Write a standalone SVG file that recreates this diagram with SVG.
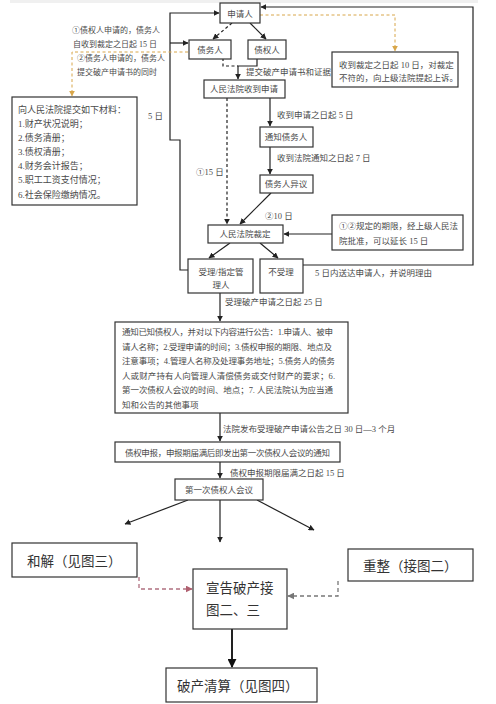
<svg xmlns="http://www.w3.org/2000/svg" width="496" height="704" viewBox="0 0 496 704">
<style>
.box{fill:#fff;stroke:#333;stroke-width:1.2}
.t{font-family:"Liberation Serif","Noto Sans CJK SC",serif;font-size:8.5px;fill:#4a4a4a}
.s{font-size:8px}
.tc{text-anchor:middle}
.m{font-size:9px}
.big{font-family:"Liberation Serif","Noto Sans CJK SC",serif;font-size:13.5px;fill:#333}
.ln{fill:none;stroke:#222;stroke-width:1.2}
.dash{stroke-dasharray:3,2.5}
.or{fill:none;stroke:#d8a64a;stroke-width:1;stroke-dasharray:3,2.5}
.pk{fill:none;stroke:#b07080;stroke-width:1.3;stroke-dasharray:4,3}
.gy{fill:none;stroke:#777;stroke-width:1.3;stroke-dasharray:4,3}
</style>
<defs>
<marker id="ah" viewBox="0 0 10 10" refX="9" refY="5" markerWidth="6" markerHeight="6" orient="auto" markerUnits="userSpaceOnUse"><path d="M0,0 L10,5 L0,10 z" fill="#222"/></marker>
<marker id="ahB" viewBox="0 0 10 10" refX="9" refY="5" markerWidth="9" markerHeight="9" orient="auto" markerUnits="userSpaceOnUse"><path d="M0,0 L10,5 L0,10 z" fill="#111"/></marker>
<marker id="ahO" viewBox="0 0 10 10" refX="9" refY="5" markerWidth="6" markerHeight="6" orient="auto" markerUnits="userSpaceOnUse"><path d="M0,0 L10,5 L0,10 z" fill="#d8a64a"/></marker>
<marker id="ahP" viewBox="0 0 10 10" refX="9" refY="5" markerWidth="7" markerHeight="7" orient="auto" markerUnits="userSpaceOnUse"><path d="M0,0 L10,5 L0,10 z" fill="#b06070"/></marker>
<marker id="ahG" viewBox="0 0 10 10" refX="9" refY="5" markerWidth="7" markerHeight="7" orient="auto" markerUnits="userSpaceOnUse"><path d="M0,0 L10,5 L0,10 z" fill="#777"/></marker>
</defs>
<rect x="0" y="0" width="496" height="704" fill="#fff"/>
<rect x="10" y="0" width="468" height="3" fill="#f0f0f0"/>

<g id="connectors">
<path class="ln" d="M189,270 H180 V140 H170 V13 H219" marker-end="url(#ah)"/>
<path class="ln" d="M170,43 H188" marker-end="url(#ah)"/>
<path class="or" d="M188,52 H72 V96" marker-end="url(#ahO)"/>
<path class="ln dash" d="M232,23 L213,39" marker-end="url(#ah)"/>
<path class="ln" d="M250,23 L266,39" marker-end="url(#ah)"/>
<path class="ln" d="M257,58 V66 H238 V79" marker-end="url(#ah)"/>
<path class="ln dash" d="M223,58 V66 H238"/>
<path class="or" d="M260,15 H395 V51" marker-end="url(#ahO)"/>
<path class="ln" d="M303,265 H473 V7 H261" marker-end="url(#ah)"/>
<path class="ln" d="M270,98 V126" marker-end="url(#ah)"/>
<path class="ln" d="M270,147 V174" marker-end="url(#ah)"/>
<path class="ln dash" d="M227,98 V224" marker-end="url(#ah)"/>
<path class="ln" d="M271,193 L240,224" marker-end="url(#ah)"/>
<path class="ln" d="M332,234 H284" marker-end="url(#ah)"/>
<path class="ln" d="M230,243 L209,258" marker-end="url(#ah)"/>
<path class="ln" d="M260,243 L278,258" marker-end="url(#ah)"/>
<path class="ln" d="M220,293 V321" marker-end="url(#ah)"/>
<path class="ln" d="M220,413 V441" marker-end="url(#ah)"/>
<path class="ln" d="M220,462 V478" marker-end="url(#ah)"/>
<path class="ln" d="M188,500 L125,524" marker-end="url(#ah)"/>
<path class="ln" d="M220,500 V542" marker-end="url(#ah)"/>
<path class="ln" d="M257,500 L314,530" marker-end="url(#ah)"/>
<path class="ln" style="stroke-width:2" d="M232,629 V667" marker-end="url(#ahB)"/>
<path class="pk" d="M139,577 V589 H192" marker-end="url(#ahP)"/>
<path class="gy" d="M338,581 V596 H288" marker-end="url(#ahG)"/>
</g>

<g id="labels">
<text class="t s" x="72" y="33">①债权人申请的，债务人</text>
<text class="t s" x="73" y="47">自收到裁定之日起 15 日</text>
<text class="t s" x="77" y="61">②债务人申请的，债务人</text>
<text class="t s" x="77" y="75">提交破产申请书的同时</text>
<text class="t" x="148" y="119">5 日</text>
<text class="t" x="246" y="75">提交破产申请书和证据</text>
<text class="t" x="277" y="118">收到申请之日起 5 日</text>
<text class="t" x="277" y="161">收到法院通知之日起 7 日</text>
<text class="t" x="196" y="175">①15 日</text>
<text class="t" x="265" y="219">②10 日</text>
<text class="t" x="315" y="276">5 日内送达申请人，并说明理由</text>
<text class="t" x="225" y="305">受理破产申请之日起 25 日</text>
<text class="t" x="223" y="432">法院发布受理破产申请公告之日 30 日—3 个月</text>
<text class="t" x="230" y="476">债权申报期限届满之日起 15 日</text>
</g>

<g id="n-applicant"><rect class="box" x="220" y="3" width="40" height="20"/><text class="t tc" x="240" y="16.5">申请人</text></g>
<g id="n-debtor"><rect class="box" x="189" y="40" width="42" height="19"/><text class="t tc" x="210" y="52.5">债务人</text></g>
<g id="n-creditor"><rect class="box" x="248" y="40" width="38" height="19"/><text class="t tc" x="267" y="52.5">债权人</text></g>
<g id="n-materials"><rect class="box" x="12" y="97" width="125" height="108"/>
<text class="t m" x="18" y="113">向人民法院提交如下材料：</text>
<text class="t m" x="18" y="127">1.财产状况说明；</text>
<text class="t m" x="18" y="141">2.债务清册；</text>
<text class="t m" x="18" y="155">3.债权清册；</text>
<text class="t m" x="18" y="169">4.财务会计报告；</text>
<text class="t m" x="18" y="183">5.职工工资支付情况；</text>
<text class="t m" x="18" y="198">6.社会保险缴纳情况。</text></g>
<g id="n-appeal"><rect class="box" x="332" y="52" width="126" height="35"/>
<text class="t" x="339" y="68">收到裁定之日起 10 日，对裁定</text>
<text class="t" x="339" y="81">不符的，向上级法院提起上诉。</text></g>
<g id="n-received"><rect class="box" x="204" y="80" width="81" height="18"/><text class="t tc" x="244" y="92">人民法院收到申请</text></g>
<g id="n-notify"><rect class="box" x="260" y="127" width="53" height="20"/><text class="t tc" x="286" y="140">通知债务人</text></g>
<g id="n-objection"><rect class="box" x="260" y="175" width="53" height="18"/><text class="t tc" x="286" y="187">债务人异议</text></g>
<g id="n-extend"><rect class="box" x="332" y="215" width="131" height="35"/>
<text class="t" x="339" y="229">①②规定的期限，经上级人民法</text>
<text class="t" x="339" y="244">院批准，可以延长 15 日</text></g>
<g id="n-ruling"><rect class="box" x="208" y="225" width="75" height="18"/><text class="t tc" x="245" y="237">人民法院裁定</text></g>
<g id="n-accept"><rect class="box" x="188" y="259" width="65" height="34"/><text class="t tc" x="221" y="275">受理/指定管</text><text class="t tc" x="221" y="288">理人</text></g>
<g id="n-reject"><rect class="box" x="260" y="259" width="43" height="34"/><text class="t tc" x="281" y="275">不受理</text></g>
<g id="n-notice"><rect class="box" x="115" y="322" width="233" height="91"/>
<text class="t" x="122" y="335" textLength="211" lengthAdjust="spacing">通知已知债权人，并对以下内容进行公告：1.申请人、被申</text>
<text class="t" x="122" y="349.5" textLength="210" lengthAdjust="spacing">请人名称；2.受理申请的时间；3.债权申报的期限、地点及</text>
<text class="t" x="122" y="364" textLength="213" lengthAdjust="spacing">注意事项；4.管理人名称及处理事务地址；5.债务人的债务</text>
<text class="t" x="122" y="378.5" textLength="213" lengthAdjust="spacing">人或财产持有人向管理人清偿债务或交付财产的要求；6.</text>
<text class="t" x="122" y="393" textLength="211" lengthAdjust="spacing">第一次债权人会议的时间、地点；7. 人民法院认为应当通</text>
<text class="t" x="122" y="407.5">知和公告的其他事项</text></g>
<g id="n-claims"><rect class="box" x="115" y="442" width="225" height="20"/><text class="t" x="125" y="456" textLength="205" lengthAdjust="spacing">债权申报，申报期届满后即发出第一次债权人会议的通知</text></g>
<g id="n-meeting"><rect class="box" x="175" y="479" width="88" height="21"/><text class="t tc" x="219" y="493">第一次债权人会议</text></g>
<g id="n-settle"><rect class="box" x="12" y="543" width="125" height="34"/><text class="big" x="27" y="566">和解（见图三）</text></g>
<g id="n-reorg"><rect class="box" x="348" y="549" width="125" height="32"/><text class="big" x="363" y="571">重整（接图二）</text></g>
<g id="n-declare"><rect class="box" x="193" y="569" width="94" height="60"/><text class="big" x="206" y="593">宣告破产接</text><text class="big" x="206" y="615">图二、三</text></g>
<g id="n-liquidation"><rect class="box" x="166" y="668" width="151" height="34"/><text class="big" x="177" y="691">破产清算（见图四）</text></g>
</svg>
